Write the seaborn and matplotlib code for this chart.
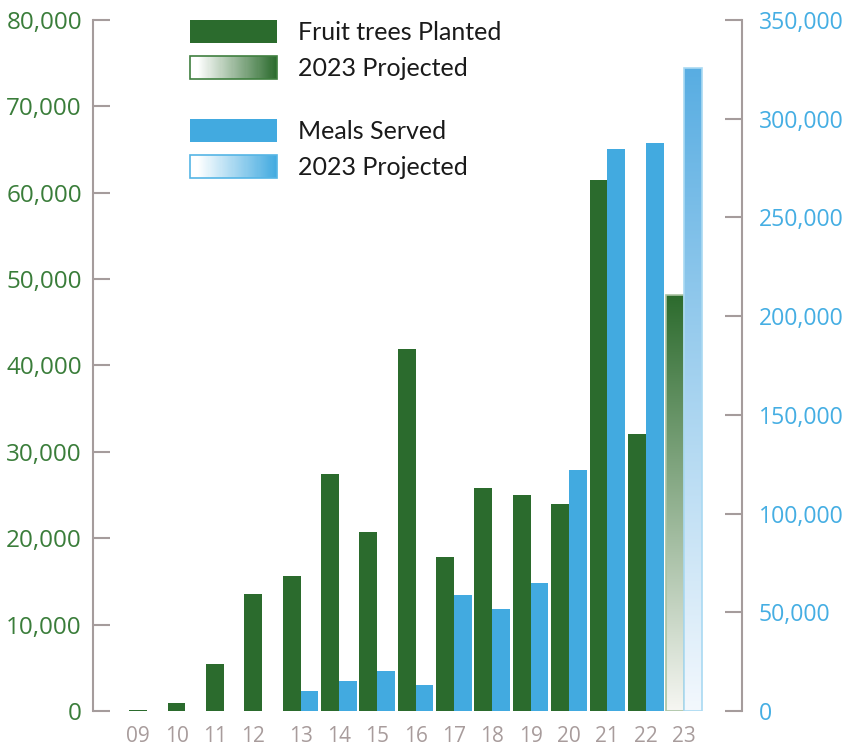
import numpy as np
import pandas as pd
import matplotlib
matplotlib.use("Agg")
import matplotlib.pyplot as plt
import seaborn as sns
from matplotlib.patches import Patch, Rectangle
from matplotlib.legend_handler import HandlerBase
from matplotlib.colors import to_rgb
from matplotlib.ticker import FuncFormatter

# ---------------- data ----------------
years = ["09", "10", "11", "12", "13", "14", "15", "16", "17", "18", "19", "20", "21", "22", "23"]
trees = [150, 950, 5400, 13500, 15600, 27400, 20700, 41900, 17800, 25800, 25000, 24000, 61500, 32100, 48200]
meals = [np.nan, np.nan, np.nan, np.nan, 10100, 15200, 20300, 13200, 58800, 51700, 64800, 122100, 284700, 287700, 325700]
projected_year = "23"
trees_label = "Fruit trees Planted"
meals_label = "Meals Served"
proj_label = "2023 Projected"

GREEN = "#2b6b2d"
BLUE = "#42aae0"
GREEN_TXT = "#3a7d3a"
BLUE_TXT = "#45aee3"
GRAY = "#a59c9c"

sns.set_style("white")
plt.rcParams["font.family"] = ["Open Sans", "DejaVu Sans"]

df_t = pd.DataFrame({"year": years, "series": trees_label, "value": trees})
df_m = pd.DataFrame({"year": years, "series": meals_label, "value": meals})
hue_order = [trees_label, meals_label]
pal = {trees_label: GREEN, meals_label: BLUE}
W = 0.93

fig = plt.figure(figsize=(8.46, 7.47), dpi=100)
ax1 = fig.add_axes([93 / 846, 36 / 747, (742 - 93) / 846, (711 - 20) / 747])
ax2 = ax1.twinx()

d1 = pd.concat([df_t, df_m.assign(value=np.nan)], ignore_index=True)
d2 = pd.concat([df_t.assign(value=np.nan), df_m], ignore_index=True)
sns.barplot(data=d1, x="year", y="value", hue="series", hue_order=hue_order, palette=pal,
            saturation=1, dodge=True, width=W, errorbar=None, legend=False, ax=ax1,
            order=years, linewidth=0)
sns.barplot(data=d2, x="year", y="value", hue="series", hue_order=hue_order, palette=pal,
            saturation=1, dodge=True, width=W, errorbar=None, legend=False, ax=ax2,
            order=years, linewidth=0)


def gradient_bar(ax, top_color, bottom_color, edge):
    p = max(ax.patches, key=lambda r: r.get_x())
    x0, w, h = p.get_x(), p.get_width(), p.get_height()
    c0, c1 = np.array(to_rgb(top_color)), np.array(to_rgb(bottom_color))
    t = np.linspace(0, 1, 256)[:, None, None]
    img = c0 * (1 - t) + c1 * t
    im = ax.imshow(img, extent=[x0, x0 + w, 0, h], origin="upper", aspect="auto",
                   zorder=p.get_zorder(), interpolation="bilinear")
    im.set_clip_path(p)
    p.set_facecolor("none")
    p.set_edgecolor(edge)
    p.set_linewidth(1.2)
    p.set_zorder(p.get_zorder() + 0.1)


gradient_bar(ax1, "#2c6b2d", "#f6f6f2", "#a9c2a2")
gradient_bar(ax2, "#58ade2", "#f3f8fd", "#a9d9f2")
ax1.set_ylim(0, 80000)
ax2.set_ylim(0, 350000)
ax1.set_xlim(-1.41, 15.51)

# ticks
off = W / 4
xpos = [i - off if np.isnan(m) else i for i, m in enumerate(meals)]
ax1.set_xticks(xpos, labels=years)
ax1.tick_params(axis="x", length=0, pad=11, labelsize=15, labelcolor="#a89c9c")
ax1.set_xlabel("")
ax1.set_ylabel("")
ax2.set_ylabel("")
ax1.set_yticks(np.arange(0, 80001, 10000))
ax2.set_yticks(np.arange(0, 350001, 50000))
fmt = FuncFormatter(lambda v, p: f"{v:,.0f}")
ax1.yaxis.set_major_formatter(fmt)
ax2.yaxis.set_major_formatter(fmt)
ax1.tick_params(axis="y", direction="in", length=12.5, width=1.5, color=GRAY,
                labelcolor=GREEN_TXT, labelsize=17.5, pad=8)
ax2.tick_params(axis="y", direction="in", length=12.5, width=1.5, color=GRAY,
                labelcolor=BLUE_TXT, labelsize=16.6, pad=12)

for ax in (ax1, ax2):
    for s in ("top", "bottom"):
        ax.spines[s].set_visible(False)
ax1.spines["right"].set_visible(False)
ax2.spines["left"].set_visible(False)
ax1.spines["left"].set_color(GRAY)
ax1.spines["left"].set_linewidth(1.5)
ax2.spines["right"].set_color(GRAY)
ax2.spines["right"].set_linewidth(1.5)


# legend with gradient handles
class GradHandle:
    def __init__(self, c_end, edge):
        self.c_end = c_end
        self.edge = edge


class GradHandler(HandlerBase):
    def create_artists(self, legend, orig, xdescent, ydescent, width, height, fontsize, trans):
        n = 80
        c0 = np.array(to_rgb("#ffffff"))
        c1 = np.array(to_rgb(orig.c_end))
        arts = []
        for k in range(n):
            t = min(1.0, max(0.0, (k / (n - 1) - 0.08) / 0.92))
            col = c0 * (1 - t) + c1 * t
            arts.append(Rectangle((-xdescent + k * width / n, -ydescent), width / n * 1.1, height,
                                  facecolor=col, edgecolor="none", transform=trans))
        arts.append(Rectangle((-xdescent, -ydescent), width, height, facecolor="none",
                              edgecolor=orig.edge, linewidth=1.2, transform=trans))
        return arts


hmap = {GradHandle: GradHandler()}
fs = 18
common = dict(loc="upper left", frameon=False, borderpad=0, borderaxespad=0,
              handlelength=87 / (fs * 100 / 72), handleheight=26 / (fs * 100 / 72),
              handletextpad=0.85, labelspacing=0.48,
              prop={"family": ["Lato", "DejaVu Sans"], "size": fs},
              handler_map=hmap, labelcolor="#1a1a1a")
leg1 = fig.legend([Patch(facecolor=GREEN, edgecolor="none"), GradHandle(GREEN, "#3f7f3f")],
                  [trees_label, proj_label], bbox_to_anchor=(190 / 846, 1 - 19.5 / 747), **common)
leg2 = fig.legend([Patch(facecolor=BLUE, edgecolor="none"), GradHandle(BLUE, "#55b5e5")],
                  [meals_label, proj_label], bbox_to_anchor=(190 / 846, 1 - 118.5 / 747), **common)

fig.savefig("out.png", dpi=100)
